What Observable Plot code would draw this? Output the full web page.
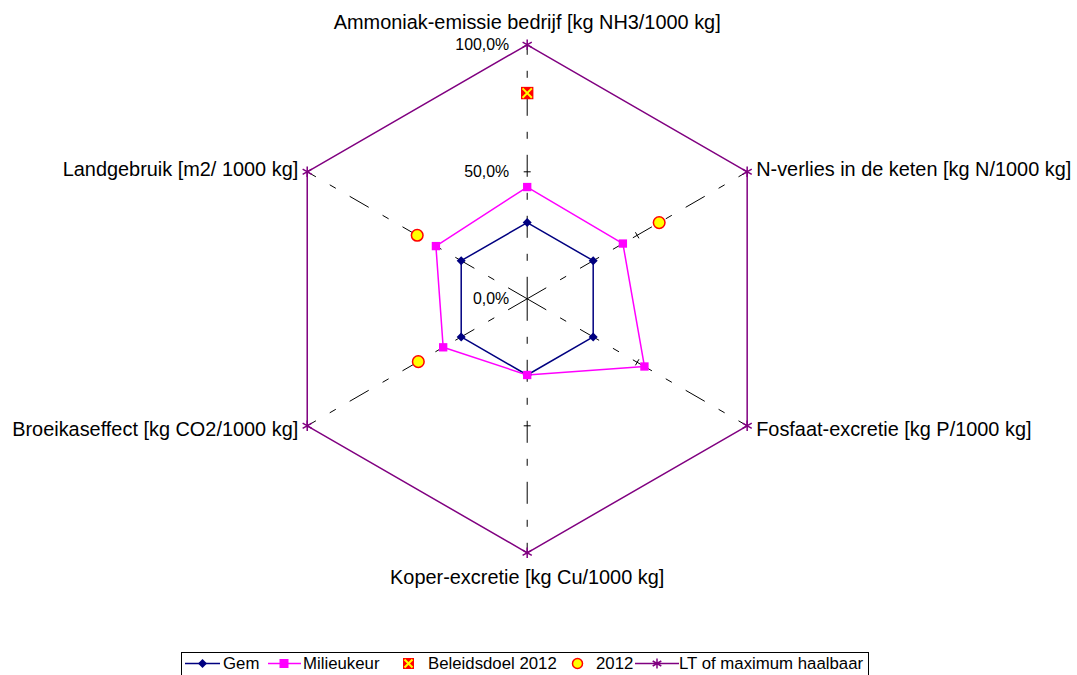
<!DOCTYPE html>
<html>
<head>
<meta charset="utf-8">
<script src="https://cdn.jsdelivr.net/npm/d3@7"></script>
<script src="https://cdn.jsdelivr.net/npm/@observablehq/plot@0.6"></script>
<style>
  html, body { margin: 0; padding: 0; background: #fff; }
  #wrap { position: relative; width: 1077px; height: 675px; overflow: hidden; font-family: "Liberation Sans", Arial, sans-serif; }
  #legend { position: absolute; left: 181px; top: 652px; width: 688px; height: 34px; border: 1px solid #000; box-sizing: border-box; background: #fff; }
  #legend svg { position: absolute; left: 0; top: 0; }
  #legend span { position: absolute; top: 1px; font-size: 16.8px; line-height: 20px; color: #000; white-space: nowrap; }
</style>
</head>
<body>
<div id="wrap"></div>
<script>
// Radar axes (one per indicator), clockwise from the top
const axisLabels = [
  "Ammoniak-emissie bedrijf [kg NH3/1000 kg]",
  "N-verlies in de keten [kg N/1000 kg]",
  "Fosfaat-excretie [kg P/1000 kg]",
  "Koper-excretie [kg Cu/1000 kg]",
  "Broeikaseffect [kg CO2/1000 kg]",
  "Landgebruik [m2/ 1000 kg]"
];

// Series values in % of the long-term maximum (null = no value)
const gem             = [30, 30, 30, 30, 30, 30];
const milieukeur      = [44, 43.5, 53.3, 30, 38.2, 41.5];
const beleidsdoel2012 = [81, null, null, null, null, null];
const jaar2012        = [null, 60, null, null, 49.5, 50];
const ltMaximum       = [100, 100, 100, 100, 100, 100];

// Radial scale ticks
const tickValues = [0, 50, 100];
const tickLabels = ["0,0%", "50,0%", "100,0%"];

// ---- layout ----
const W = 1077, H = 650;
const cx = 526.7, cy = 298.3, R = 254;   // centre and 100% radius in px
const n = axisLabels.length;
const angle = i => i * 2 * Math.PI / n;
const px = (v, i) => v / 100 * Math.sin(angle(i));
const py = (v, i) => v / 100 * Math.cos(angle(i));
const rows = vals => vals.map((v, i) => ({i, v})).filter(d => d.v != null);

const spokes = axisLabels.map((label, i) => ({i, label}));
const tickRows = [];
for (const t of tickValues) if (t > 0 && t < 100) for (let i = 0; i < n; i++) tickRows.push({i, v: t});
const half = 3.5 / R;  // half tick length in scale units

// square diamond marker
const diamond = {
  draw(ctx, size) {
    const h = Math.sqrt(size / Math.PI);
    ctx.moveTo(0, -h); ctx.lineTo(h, 0); ctx.lineTo(0, h); ctx.lineTo(-h, 0); ctx.closePath();
  }
};

const xy = {x: d => px(d.v, d.i), y: d => py(d.v, d.i)};

const labelMarks = spokes.map(s => {
  const sx = Math.sin(angle(s.i)), sy = Math.cos(angle(s.i));
  let textAnchor = "middle", dx = 0, dy = 0;
  if (Math.abs(sx) < 1e-6) { dy = sy > 0 ? -22.5 : 24.8; }
  else { textAnchor = sx > 0 ? "start" : "end"; dx = sx > 0 ? 9 : -9; dy = sy > 0 ? -2.5 : 3.5; }
  return Plot.text([s], {x: d => px(100, d.i), y: d => py(100, d.i), text: "label",
    textAnchor, dx, dy, fontSize: 19.9, fill: "#000"});
});

const chart = Plot.plot({
  width: W,
  height: H,
  margin: 0,
  x: {domain: [(0 - cx) / R, (W - cx) / R], axis: null},
  y: {domain: [-(H - cy) / R, cy / R], axis: null},
  style: {fontFamily: "'Liberation Sans', Arial, sans-serif", background: "#fff", overflow: "visible"},
  marks: [
    // spokes
    Plot.link(spokes, {x1: 0, y1: 0, x2: d => px(100, d.i), y2: d => py(100, d.i),
      stroke: "#000", strokeWidth: 1, strokeDasharray: "22,16,7,16"}),
    // tick marks across spokes
    Plot.link(tickRows, {
      x1: d => px(d.v, d.i) - half * Math.cos(angle(d.i)),
      y1: d => py(d.v, d.i) + half * Math.sin(angle(d.i)),
      x2: d => px(d.v, d.i) + half * Math.cos(angle(d.i)),
      y2: d => py(d.v, d.i) - half * Math.sin(angle(d.i)),
      stroke: "#000", strokeWidth: 1}),
    // tick labels on the top spoke
    Plot.text(tickValues.map((v, k) => ({i: 0, v, label: tickLabels[k]})), {
      ...xy, text: "label", textAnchor: "end", dx: -18, fontSize: 15.9, fill: "#000"}),
    ...labelMarks,
    // series polygons
    Plot.line(rows(ltMaximum), {...xy, curve: "linear-closed", stroke: "#800080", strokeWidth: 1.5}),
    Plot.line(rows(gem), {...xy, curve: "linear-closed", stroke: "#000080", strokeWidth: 1.5}),
    Plot.line(rows(milieukeur), {...xy, curve: "linear-closed", stroke: "#ff00ff", strokeWidth: 1.5}),
    // markers
    Plot.dot(rows(ltMaximum), {...xy, symbol: "asterisk", r: 5, stroke: "#800080", strokeWidth: 1.5}),
    Plot.dot(rows(gem), {...xy, symbol: diamond, r: 4.5, fill: "#000080", stroke: "none"}),
    Plot.dot(rows(milieukeur), {...xy, symbol: "square", r: 4.7, fill: "#ff00ff", stroke: "none"}),
    Plot.dot(rows(beleidsdoel2012), {...xy, symbol: "square", r: 7, fill: "#ff0000", stroke: "none"}),
    Plot.dot(rows(beleidsdoel2012), {...xy, symbol: "times", r: 4.3, stroke: "#ffff00", strokeWidth: 2}),
    Plot.dot(rows(jaar2012), {...xy, symbol: "circle", r: 5.8, fill: "#ffff00", stroke: "#ff0000", strokeWidth: 1.5})
  ]
});

const wrap = document.getElementById("wrap");
wrap.appendChild(chart);

// legend below the chart
const legend = document.createElement("div");
legend.id = "legend";
legend.innerHTML = `
<svg width="688" height="34" viewBox="0 0 688 34">
  <line x1="3" y1="10.5" x2="38" y2="10.5" stroke="#000080" stroke-width="1.5"/>
  <path d="M20.5 6 L25 10.5 L20.5 15 L16 10.5 Z" fill="#000080"/>
  <line x1="86" y1="10.5" x2="119" y2="10.5" stroke="#ff00ff" stroke-width="1.5"/>
  <rect x="97.5" y="6" width="9" height="9" fill="#ff00ff"/>
  <rect x="221" y="5" width="11" height="11" fill="#ff0000"/>
  <path d="M222.5 6.5 L230.5 14.5 M230.5 6.5 L222.5 14.5" stroke="#ffff00" stroke-width="2"/>
  <circle cx="395.5" cy="10.5" r="5" fill="#ffff00" stroke="#ff0000" stroke-width="1.5"/>
  <line x1="453" y1="10.5" x2="497" y2="10.5" stroke="#800080" stroke-width="1.5"/>
  <path d="M475 5.5 V15.5 M470.7 8 L479.3 13 M479.3 8 L470.7 13" stroke="#800080" stroke-width="1.5"/>
</svg>
<span style="left:41px">Gem</span>
<span style="left:121px">Milieukeur</span>
<span style="left:246px">Beleidsdoel 2012</span>
<span style="left:414px">2012</span>
<span style="left:497px">LT of maximum haalbaar</span>`;
wrap.appendChild(legend);
</script>
</body>
</html>
